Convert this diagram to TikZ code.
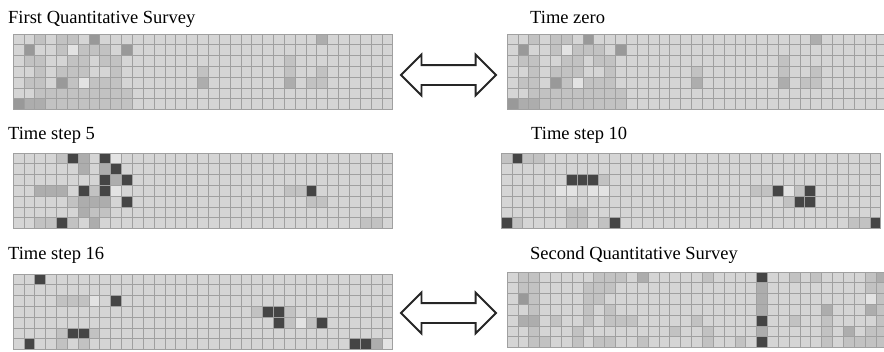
\documentclass[tikz,border=0pt]{standalone}
\usepackage{fontspec}
\setmainfont{Liberation Serif}
\usetikzlibrary{shapes.arrows}

\definecolor{cellbase}{HTML}{D5D5D5}
\definecolor{cellline}{HTML}{A0A0A0}
\definecolor{shadeW}{HTML}{E3E3E3}
\definecolor{shadeL}{HTML}{C2C2C2}
\definecolor{shadeM}{HTML}{ADADAD}
\definecolor{shadeK}{HTML}{999999}
\definecolor{shadeD}{HTML}{454545}

\tikzset{
  caption/.style={anchor=base west, inner sep=0pt, font=\fontsize{18.5}{22}\selectfont},
  swaparrow/.style={double arrow, draw=black!85, fill=white, line width=1.8pt,
    minimum height=95pt, inner xsep=0pt, inner ysep=9pt,
    double arrow head extend=10.5pt, double arrow tip angle=90},
}

% A 35 x 7 occupancy grid with its top-left corner at (#1,#2);
% #3 is a macro listing the shaded cells as column/row/colour.
\newcommand\cellgrid[3]{%
  \begin{scope}[shift={(#1,#2)}]
    \fill[cellbase] (0,0) rectangle (379.75,75.6);
    \foreach \c/\r/\s in #3 {\fill[\s] (\c*10.85,\r*10.8) rectangle ++(10.85,10.8);}
    \foreach \i in {0,...,35} {\draw[cellline, line width=0.7pt] (\i*10.85,0) -- (\i*10.85,75.6);}
    \foreach \j in {0,...,7} {\draw[cellline, line width=0.7pt] (0,\j*10.8) -- (379.75,\j*10.8);}
  \end{scope}}

% Initial occupancy, shared by the first survey and time zero
\newcommand\initialcells{%
  2/0/shadeL, 4/0/shadeL, 5/0/shadeL, 7/0/shadeK, 28/0/shadeM,
  1/1/shadeK, 4/1/shadeL, 5/1/shadeW, 6/1/shadeL, 7/1/shadeL, 8/1/shadeL, 10/1/shadeK,
  1/2/shadeL, 2/2/shadeL, 5/2/shadeL, 6/2/shadeL, 8/2/shadeL, 9/2/shadeL, 25/2/shadeL,
  2/3/shadeL, 4/3/shadeL, 5/3/shadeL, 6/3/shadeL, 9/3/shadeL, 17/3/shadeL, 25/3/shadeL, 28/3/shadeL,
  1/4/shadeL, 2/4/shadeL, 4/4/shadeK, 5/4/shadeL, 6/4/shadeW, 7/4/shadeL, 8/4/shadeL, 9/4/shadeL,
  17/4/shadeM, 25/4/shadeM, 27/4/shadeL, 28/4/shadeL,
  2/5/shadeL, 3/5/shadeL, 4/5/shadeL, 5/5/shadeL, 6/5/shadeL, 7/5/shadeL, 8/5/shadeL, 9/5/shadeL, 10/5/shadeL,
  0/6/shadeK, 1/6/shadeM, 2/6/shadeM, 3/6/shadeL, 4/6/shadeL, 5/6/shadeL, 6/6/shadeL, 7/6/shadeL,
  8/6/shadeL, 9/6/shadeL, 10/6/shadeL}

\newcommand\stepfivecells{%
  4/0/shadeL, 5/0/shadeD, 6/0/shadeM, 8/0/shadeD, 9/0/shadeW,
  6/1/shadeM, 8/1/shadeM, 9/1/shadeD,
  8/2/shadeD, 9/2/shadeM, 10/2/shadeD,
  2/3/shadeM, 3/3/shadeM, 4/3/shadeM, 6/3/shadeD, 7/3/shadeL, 8/3/shadeD, 9/3/shadeW,
  25/3/shadeL, 26/3/shadeL, 27/3/shadeD,
  5/4/shadeL, 6/4/shadeM, 7/4/shadeM, 8/4/shadeM, 10/4/shadeD, 27/4/shadeL, 28/4/shadeL,
  6/5/shadeM, 7/5/shadeL, 8/5/shadeL,
  2/6/shadeL, 3/6/shadeL, 4/6/shadeD, 5/6/shadeL, 7/6/shadeM, 32/6/shadeL, 33/6/shadeL}

\newcommand\steptencells{%
  0/0/shadeL, 1/0/shadeD, 2/0/shadeL, 3/0/shadeL,
  6/2/shadeD, 7/2/shadeD, 8/2/shadeD, 9/2/shadeL,
  5/3/shadeW, 6/3/shadeW, 8/3/shadeW, 9/3/shadeW,
  23/3/shadeL, 24/3/shadeL, 25/3/shadeD, 26/3/shadeW, 27/3/shadeL, 28/3/shadeD,
  26/4/shadeL, 27/4/shadeD, 28/4/shadeD,
  6/5/shadeL, 7/5/shadeL,
  0/6/shadeD, 1/6/shadeL, 6/6/shadeL, 7/6/shadeL, 9/6/shadeL, 10/6/shadeD,
  32/6/shadeL, 33/6/shadeL, 34/6/shadeD}

\newcommand\stepsixteencells{%
  2/0/shadeD,
  4/2/shadeL, 5/2/shadeL, 6/2/shadeL, 7/2/shadeW, 9/2/shadeD,
  22/3/shadeL, 23/3/shadeD, 24/3/shadeD, 25/3/shadeL,
  24/4/shadeD, 25/4/shadeL, 26/4/shadeW, 27/4/shadeL, 28/4/shadeD,
  4/5/shadeL, 5/5/shadeD, 6/5/shadeD, 7/5/shadeL,
  1/6/shadeD, 4/6/shadeL, 6/6/shadeL,
  31/6/shadeD, 32/6/shadeD, 33/6/shadeM, 34/6/shadeW}

\newcommand\secondsurveycells{%
  1/0/shadeL, 2/0/shadeL, 8/0/shadeL, 9/0/shadeL, 10/0/shadeL, 12/0/shadeM,
  18/0/shadeL, 23/0/shadeD, 26/0/shadeL, 28/0/shadeL, 33/0/shadeL, 34/0/shadeM,
  1/1/shadeL, 2/1/shadeL, 7/1/shadeL, 8/1/shadeL, 9/1/shadeL, 23/1/shadeM, 33/1/shadeL, 34/1/shadeL,
  1/2/shadeK, 2/2/shadeL, 7/2/shadeL, 8/2/shadeL, 23/2/shadeM, 33/2/shadeW, 34/2/shadeL,
  2/3/shadeL, 7/3/shadeL, 9/3/shadeL, 23/3/shadeM, 29/3/shadeM, 33/3/shadeM, 34/3/shadeL,
  1/4/shadeM, 2/4/shadeM, 4/4/shadeL, 7/4/shadeL, 9/4/shadeL, 10/4/shadeL, 11/4/shadeL,
  17/4/shadeL, 23/4/shadeD, 26/4/shadeL, 29/4/shadeL, 34/4/shadeL,
  2/5/shadeL, 6/5/shadeL, 15/5/shadeL, 18/5/shadeL, 23/5/shadeM, 29/5/shadeL, 31/5/shadeM,
  33/5/shadeL, 34/5/shadeL,
  2/6/shadeL, 3/6/shadeL, 6/6/shadeL, 8/6/shadeL, 9/6/shadeL, 12/6/shadeL, 18/6/shadeL,
  21/6/shadeL, 23/6/shadeD, 29/6/shadeL, 31/6/shadeL, 32/6/shadeL, 33/6/shadeL, 34/6/shadeL}

\begin{document}
\begin{tikzpicture}[x=1pt, y=-1pt]
  \fill[white] (0,0) rectangle (884,351);
  \useasboundingbox (0,0) rectangle (884,351);

  % captions
  \node[caption] (capA) at (8,23) {First Quantitative Survey};
  \node[caption] (capB) at (530,23) {Time zero};
  \node[caption] (capC) at (8,139) {Time step 5};
  \node[caption] (capD) at (531,139) {Time step 10};
  \node[caption] (capE) at (8,259) {Time step 16};
  \node[caption] (capF) at (530,259) {Second Quantitative Survey};

  % first survey and time zero
  \cellgrid{13}{34}{\initialcells}
  \cellgrid{507}{34}{\initialcells}
  % time steps 5 and 10
  \cellgrid{13}{153}{\stepfivecells}
  \cellgrid{501}{153}{\steptencells}
  % time step 16 and second survey
  \cellgrid{13}{274}{\stepsixteencells}
  \cellgrid{507}{272}{\secondsurveycells}

  % correspondence arrows
  \node[swaparrow] (topswap) at (448.5,75) {};
  \node[swaparrow] (botswap) at (448.5,313) {};
\end{tikzpicture}
\end{document}
